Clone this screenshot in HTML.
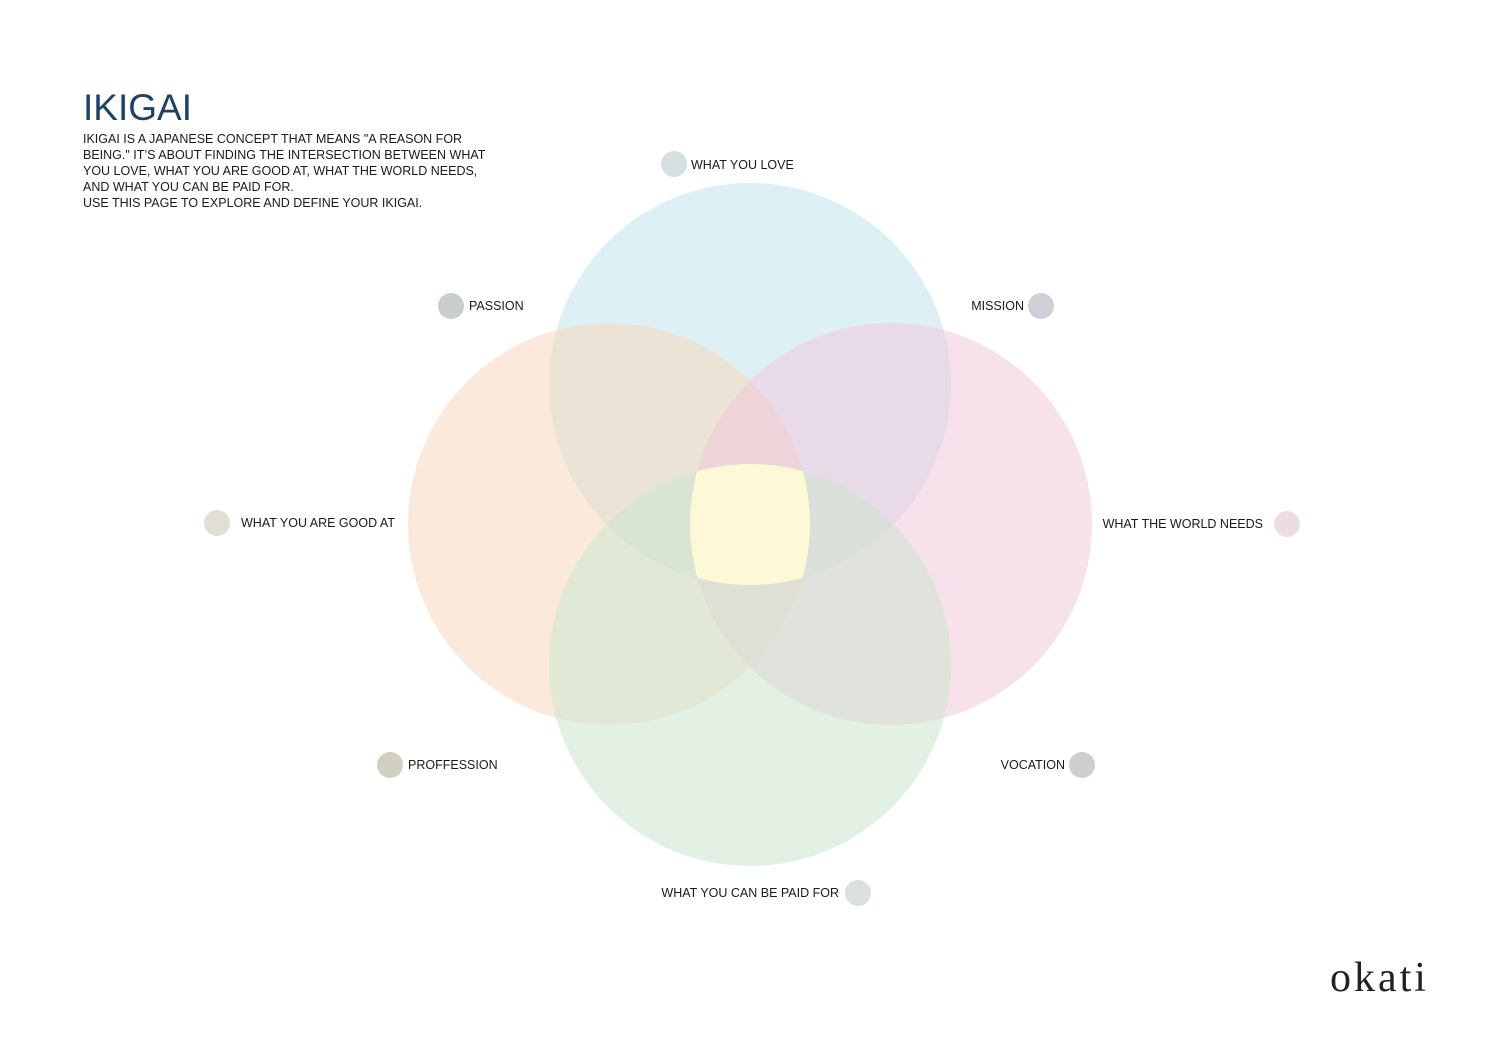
<!DOCTYPE html>
<html><head><meta charset="utf-8"><style>
html,body{margin:0;padding:0;background:#fff}
svg{display:block}
text{font-family:"Liberation Sans",sans-serif;fill:#1a1a1a}
</style></head><body>
<svg width="1500" height="1060" viewBox="0 0 1500 1060" xmlns="http://www.w3.org/2000/svg">
<defs>
<clipPath id="c1"><circle cx="609" cy="524" r="201"/></clipPath>
<clipPath id="c2"><circle cx="891" cy="524" r="201"/></clipPath>
<clipPath id="c3"><circle cx="750" cy="384" r="201"/></clipPath>
<clipPath id="c4"><circle cx="750" cy="665" r="201"/></clipPath>
</defs>
<text x="83" y="120" font-size="37" style="fill:#1f4166">IKIGAI</text>
<g font-size="12.5">
<text x="83" y="143">IKIGAI IS A JAPANESE CONCEPT THAT MEANS "A REASON FOR</text>
<text x="83" y="159">BEING." IT’S ABOUT FINDING THE INTERSECTION BETWEEN WHAT</text>
<text x="83" y="175">YOU LOVE, WHAT YOU ARE GOOD AT, WHAT THE WORLD NEEDS,</text>
<text x="83" y="191">AND WHAT YOU CAN BE PAID FOR.</text>
<text x="83" y="207">USE THIS PAGE TO EXPLORE AND DEFINE YOUR IKIGAI.</text>
</g>
<g opacity="1">
<circle cx="750" cy="384" r="201" fill="#c1e4ed" fill-opacity="0.55"/>
<circle cx="609" cy="524" r="201" fill="#f8d9be" fill-opacity="0.55"/>
<circle cx="891" cy="524" r="201" fill="#f0c8d9" fill-opacity="0.55"/>
<circle cx="750" cy="665" r="201" fill="#cce6d0" fill-opacity="0.55"/>
</g>
<g clip-path="url(#c1)"><g clip-path="url(#c2)"><g clip-path="url(#c3)"><g clip-path="url(#c4)">
<rect x="600" y="400" width="300" height="300" fill="#fdf8d5"/>
</g></g></g></g>
<g font-size="12.5">
<circle cx="674" cy="164" r="13" fill="#d6e0e3"/><text x="691" y="169">WHAT YOU LOVE</text>
<circle cx="451" cy="306" r="13" fill="#c9cfcc"/><text x="469" y="310">PASSION</text>
<circle cx="1041" cy="306" r="13" fill="#cdd0d7"/><text x="1024" y="310" text-anchor="end">MISSION</text>
<circle cx="217" cy="523" r="13" fill="#e3ded5"/><text x="241" y="527">WHAT YOU ARE GOOD AT</text>
<circle cx="1287" cy="524" r="13" fill="#ecdde2"/><text x="1263" y="528" text-anchor="end">WHAT THE WORLD NEEDS</text>
<circle cx="390" cy="765" r="13" fill="#d1d0c1"/><text x="408" y="769">PROFFESSION</text>
<circle cx="1082" cy="765" r="13" fill="#d0cfcd"/><text x="1065" y="769" text-anchor="end">VOCATION</text>
<circle cx="858" cy="893" r="13" fill="#dae0db"/><text x="839" y="897" text-anchor="end">WHAT YOU CAN BE PAID FOR</text>
</g>
<text x="1330" y="991" font-size="42" letter-spacing="3" style="font-family:'Liberation Serif',serif;fill:#222">okati</text>
</svg>
</body></html>
